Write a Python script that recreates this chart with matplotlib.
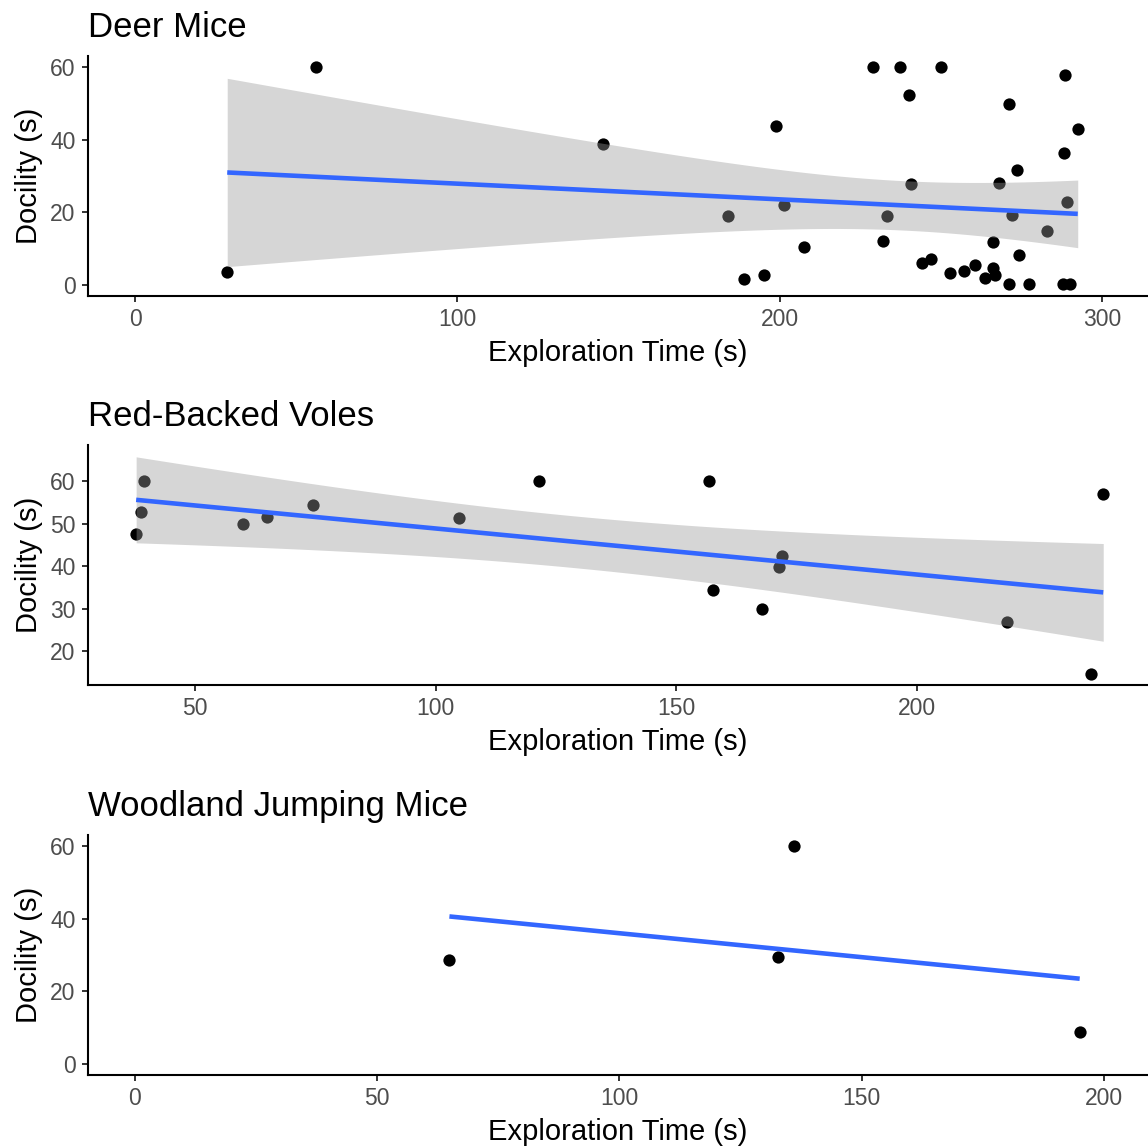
import numpy as np
import matplotlib
matplotlib.use("Agg")
import matplotlib.pyplot as plt

plt.rcParams['font.family'] = ['Liberation Sans', 'DejaVu Sans']

# ---------------- data ----------------
deer_x = [28.6, 56.0, 145.1, 184.1, 189.0, 195.3, 198.9, 201.3, 207.6, 229.0,
          232.1, 233.4, 237.4, 240.1, 240.8, 244.1, 247.0, 250.2, 252.9, 257.3,
          260.6, 263.7, 266.2, 266.9, 266.1, 268.2, 271.1, 271.1, 272.0, 273.5,
          274.2, 277.3, 282.9, 288.2, 288.6, 287.8, 290.1, 289.3, 292.5]
deer_y = [3.6, 60.0, 38.8, 19.1, 1.7, 2.7, 43.8, 21.9, 10.4, 60.0,
          12.0, 19.0, 60.0, 52.4, 27.9, 6.2, 7.2, 60.0, 3.4, 4.0,
          5.5, 2.0, 4.6, 2.7, 11.9, 28.1, 49.9, 0.2, 19.4, 31.7,
          8.4, 0.2, 14.9, 36.3, 57.8, 0.2, 0.2, 22.9, 42.9]

vole_x = [37.8, 38.9, 39.5, 60.1, 64.9, 74.6, 104.9, 121.4,
          156.8, 157.6, 167.8, 172.0, 171.3, 218.7, 238.7, 236.2]
vole_y = [47.5, 52.7, 60.0, 49.9, 51.6, 54.4, 51.3, 60.0,
          60.0, 34.4, 29.9, 42.5, 39.9, 26.8, 57.0, 14.6]

jump_x = [64.9, 132.8, 136.0, 195.0]
jump_y = [28.6, 29.5, 60.0, 8.9]

titles = ["Deer Mice", "Red-Backed Voles", "Woodland Jumping Mice"]
xlabel = "Exploration Time (s)"
ylabel = "Docility (s)"

x_ticks = [[0, 100, 200, 300], [50, 100, 150, 200], [0, 50, 100, 150, 200]]
y_ticks = [[0, 20, 40, 60], [20, 30, 40, 50, 60], [0, 20, 40, 60]]
x_lims = [(-14.6, 314.3), (27.8, 248.0), (-9.7, 209.1)]
y_lims = [(-3, 63), (12.0, 68.6), (-3, 63)]
show_ci = [True, True, False]
# two-sided 95% t quantiles for n-2 degrees of freedom
t_quant = {37: 2.026, 14: 2.145, 2: 4.303}

panels = [(deer_x, deer_y), (vole_x, vole_y), (jump_x, jump_y)]

# ---------------- figure ----------------
W = H = 1148
fig = plt.figure(figsize=(W / 100, H / 100), dpi=100)

ax_px = [(56, 296), (445, 685), (835, 1075)]
left_px, right_px = 88, 1148

for i, ((xs, ys), (top, bot)) in enumerate(zip(panels, ax_px)):
    ax = fig.add_axes([left_px / W, 1 - bot / H, (right_px - left_px) / W, (bot - top) / H])
    xs = np.asarray(xs, float)
    ys = np.asarray(ys, float)
    ax.scatter(xs, ys, s=78, color='black', linewidths=0, zorder=2, clip_on=False)

    # linear fit
    n = len(xs)
    slope, intercept = np.polyfit(xs, ys, 1)
    xg = np.linspace(xs.min(), xs.max(), 80)
    yg = intercept + slope * xg
    if show_ci[i]:
        resid = ys - (intercept + slope * xs)
        s = np.sqrt(np.sum(resid ** 2) / (n - 2))
        sxx = np.sum((xs - xs.mean()) ** 2)
        se = s * np.sqrt(1 / n + (xg - xs.mean()) ** 2 / sxx)
        t = t_quant[n - 2]
        ax.fill_between(xg, yg - t * se, yg + t * se, color='#999999', alpha=0.4,
                        linewidth=0, zorder=3)
    ax.plot(xg, yg, color='#3366FF', linewidth=3.3, zorder=4, solid_capstyle='butt')

    ax.set_xlim(*x_lims[i])
    ax.set_ylim(*y_lims[i])
    ax.set_xticks(x_ticks[i])
    ax.set_yticks(y_ticks[i])
    for sp in ['top', 'right']:
        ax.spines[sp].set_visible(False)
    for sp in ['left', 'bottom']:
        ax.spines[sp].set_linewidth(1.5)
        ax.spines[sp].set_color('black')
    ax.tick_params(axis='both', length=4.5, width=1.4, color='#333333',
                   labelcolor='#4D4D4D', labelsize=16.5)
    ax.tick_params(axis='x', pad=4)
    ax.tick_params(axis='y', pad=4.5)
    ax.set_xlabel(xlabel, fontsize=21, labelpad=6, color='black')
    ax.set_ylabel(ylabel, fontsize=21, labelpad=5, color='black')
    ax.set_title(titles[i], loc='left', fontsize=25, pad=14, color='black')
    ax.set_facecolor('white')

fig.savefig("out.png", dpi=100, facecolor='white')
